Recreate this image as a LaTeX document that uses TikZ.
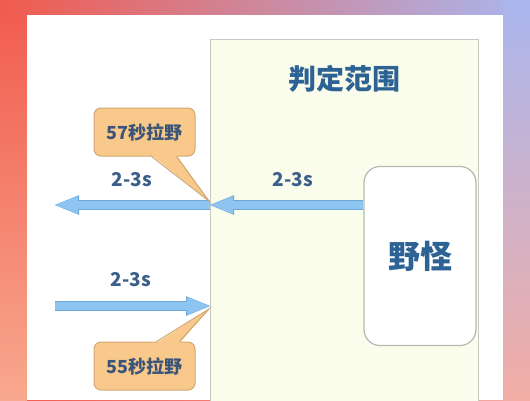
\documentclass[tikz,border=0pt]{standalone}
\usepackage{fontspec}
\setmainfont{Noto Sans CJK SC}
\usetikzlibrary{arrows.meta,calc}
\definecolor{bgred}{HTML}{F15B4E}
\definecolor{bgsalmon}{HTML}{F8A88E}
\definecolor{bgpeach}{HTML}{F6C4B6}
\definecolor{bgblue}{HTML}{A9B6EE}
\definecolor{bgpink}{HTML}{F3ADA5}
\definecolor{rangefill}{HTML}{FBFDEC}
\definecolor{rangeline}{HTML}{C6CAC0}
\definecolor{mobline}{HTML}{B4B8B4}
\definecolor{textblue}{HTML}{2D6295}
\definecolor{timetext}{HTML}{3A5F8A}
\definecolor{calltext}{HTML}{3B5578}
\definecolor{callfill}{HTML}{F9C98C}
\definecolor{callline}{HTML}{CFA872}
\definecolor{arrowfill}{HTML}{8EC5F0}
\definecolor{arrowline}{HTML}{6CA7DA}
\begin{document}
\begin{tikzpicture}[x=1pt,y=-1pt]
\tikzset{
    rangebox/.style={draw=rangeline, fill=rangefill, line width=1pt, anchor=north west, inner sep=0pt},
    titletext/.style={font=\bfseries\fontsize{28}{30}\selectfont, text=textblue},
    mobbox/.style={draw=mobline, fill=white, line width=1.2pt, rounded corners=16pt, minimum width=112pt, minimum height=179pt, font=\bfseries\fontsize{32}{34}\selectfont, text=textblue},
    callbox/.style={draw=callline, fill=callfill, line width=1pt, rounded corners=7pt, minimum width=101pt, minimum height=48pt, font=\bfseries\fontsize{18}{20}\selectfont, text=calltext},
    timelabel/.style={font=\bfseries\fontsize{19}{21}\selectfont, text=timetext},
    flowline/.style={line width=9.4pt, draw=arrowline, -{Triangle[width=19.5pt,length=24pt,line width=0.01pt]}},
    flowfill/.style={line width=8pt, draw=arrowfill, -{Triangle[width=17.5pt,length=22pt,line width=0.01pt]}, shorten >=1pt}
}
\useasboundingbox (0,0) rectangle (530,400);
% frame and card
\shade[left color=bgred, right color=bgpink] (0,0) rectangle (530,400);
\shade[top color=bgred, bottom color=bgsalmon] (0,0) rectangle (27,400);
\shade[left color=bgred, middle color=bgpeach, right color=bgblue] (0,0) rectangle (530,15);
\shade[top color=bgblue, bottom color=bgpink] (503,0) rectangle (530,400);
\fill[white] (27,15) rectangle (503,400);
% judging range
\node[rangebox, minimum width=268pt, minimum height=380pt] (range) at (210,39) {};
\node[titletext] (title) at ($(range.north)+(0,40)$) {判定范围};
\node[mobbox] (mob) at (420,256) {野怪};
\coordinate (lout) at (55,205);
\coordinate (lin) at (55,306);
\foreach \from/\to in {mob.west |- lout/range.west |- lout, range.west |- lout/lout, lin/range.west |- lin}
{
  \draw[flowline] (\from) -- (\to);
  \draw[flowfill] (\from) -- (\to);
}
% callouts
\node[callbox] (call57) at (144.5,132) {57秒拉野};
\node[callbox] (call55) at (144.5,366) {55秒拉野};
\coordinate (tip57) at (209,201);
\coordinate (tip55) at (209,309);
\fill[callfill] ($(call57.south west)+(58,-1.5)$) -- (tip57) -- ($(call57.south west)+(83,-1.5)$) -- cycle;
\draw[callline, line width=1pt] ($(call57.south west)+(58,0)$) -- (tip57) -- ($(call57.south west)+(83,0)$);
\fill[callfill] ($(call55.north west)+(63,1.5)$) -- (tip55) -- ($(call55.north west)+(86,1.5)$) -- cycle;
\draw[callline, line width=1pt] ($(call55.north west)+(63,0)$) -- (tip55) -- ($(call55.north west)+(86,0)$);
\def\timelist{(132,180),(293,180),(131,280)}
\foreach \pt [count=\i] in \timelist
{
  \node[timelabel] (time\i) at \pt {2-3s};
}
\end{tikzpicture}
\end{document}
